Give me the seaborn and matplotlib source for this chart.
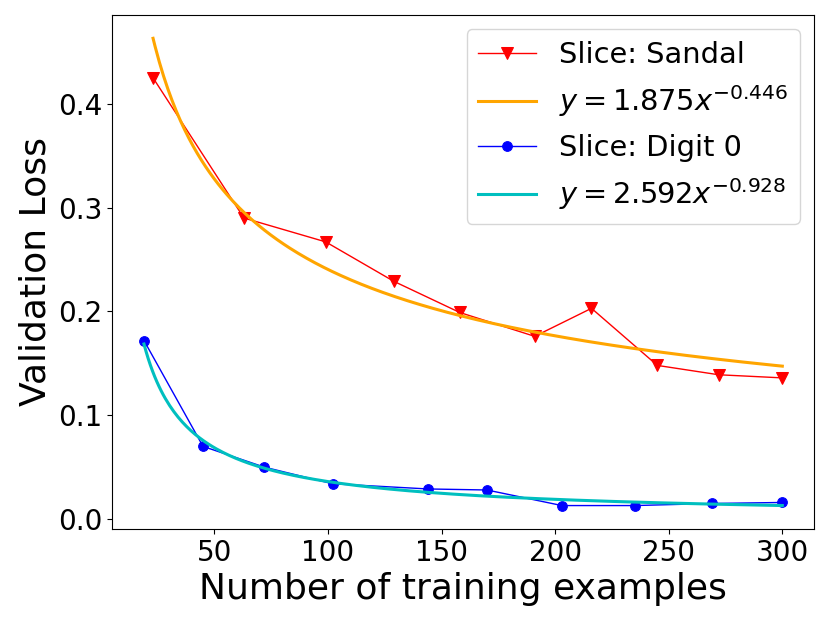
import numpy as np
import seaborn as sns
import matplotlib
matplotlib.use('Agg')
import matplotlib.pyplot as plt

# validation loss per slice vs number of training examples
sandal_n = [23, 63, 99, 129, 158, 191, 216, 245, 272, 300]
sandal_loss = [0.425, 0.290, 0.267, 0.229, 0.199, 0.176, 0.203, 0.148, 0.139, 0.136]
digit0_n = [19, 45, 72, 102, 144, 170, 203, 235, 269, 300]
digit0_loss = [0.172, 0.070, 0.050, 0.034, 0.029, 0.028, 0.013, 0.013, 0.015, 0.016]

# power law fits y = a * x^b
sandal_fit = (1.875, -0.446)
digit0_fit = (2.592, -0.928)

fig, ax = plt.subplots(figsize=(8.3, 6.23), dpi=100)
fig.subplots_adjust(left=0.135, right=0.981, top=0.976, bottom=0.151)

sns.lineplot(x=sandal_n, y=sandal_loss, ax=ax, color='red', marker='v', markersize=8,
             markeredgecolor='red', linewidth=1, label='Slice: Sandal')
xs = np.linspace(sandal_n[0], sandal_n[-1], 300)
sns.lineplot(x=xs, y=sandal_fit[0] * xs ** sandal_fit[1], ax=ax, color='orange', linewidth=2.2,
             label=r'$y = %.3fx^{%.3f}$' % sandal_fit)

sns.lineplot(x=digit0_n, y=digit0_loss, ax=ax, color='blue', marker='o', markersize=7,
             markeredgecolor='blue', linewidth=1, label='Slice: Digit 0')
xs = np.linspace(digit0_n[0], digit0_n[-1], 300)
sns.lineplot(x=xs, y=digit0_fit[0] * xs ** digit0_fit[1], ax=ax, color='c', linewidth=2.2,
             label=r'$y = %.3fx^{%.3f}$' % digit0_fit)

ax.set_xlabel('Number of training examples', fontsize=26)
ax.set_ylabel('Validation Loss', fontsize=26)
ax.tick_params(labelsize=20)
ax.legend(fontsize=20.8, loc='upper right')

plt.savefig('out.png')
